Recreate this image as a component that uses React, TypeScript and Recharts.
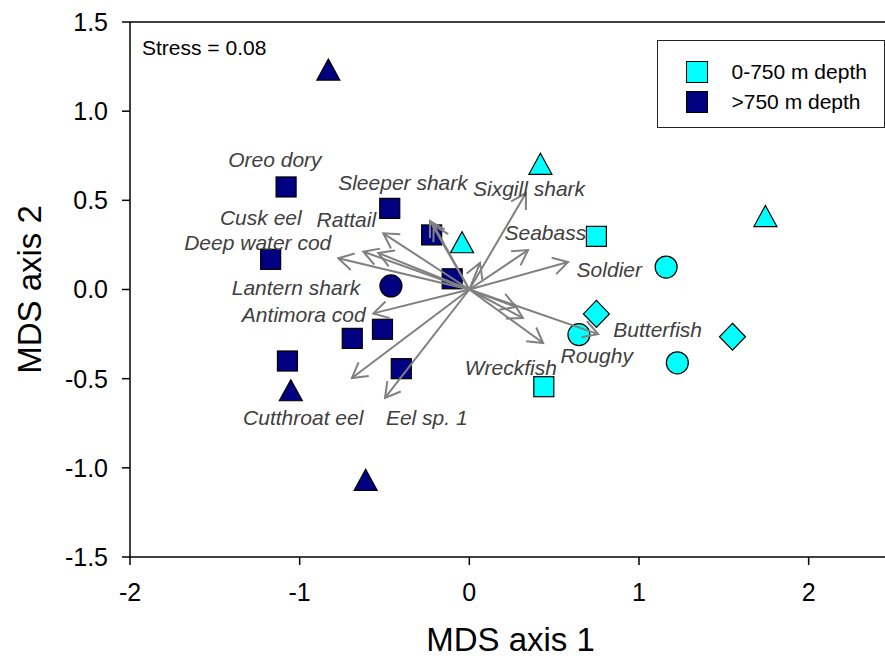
import React from 'react';
import { Legend, ReferenceLine, Scatter, ScatterChart, XAxis, YAxis } from 'recharts';

type Pair = [number, number];

// sample scores on the two MDS axes, grouped by depth stratum and symbol
const deepSquares: Pair[] = [
  [-1.08, 0.575],
  [-0.469, 0.455],
  [-0.222, 0.306],
  [-1.171, 0.169],
  [-0.101, 0.06],
  [-0.512, -0.223],
  [-0.69, -0.274],
  [-1.072, -0.401],
  [-0.401, -0.444],
];
const deepTriangles: Pair[] = [
  [-0.831, 1.233],
  [-1.052, -0.565],
  [-0.611, -1.067],
];
const deepCircles: Pair[] = [[-0.462, 0.02]];

const shallowSquares: Pair[] = [
  [0.749, 0.298],
  [0.439, -0.545],
];
const shallowTriangles: Pair[] = [
  [0.419, 0.705],
  [1.745, 0.412],
  [-0.043, 0.265],
];
const shallowCircles: Pair[] = [
  [1.16, 0.126],
  [0.646, -0.253],
  [1.226, -0.411],
];
const shallowDiamonds: Pair[] = [
  [0.749, -0.137],
  [1.551, -0.265],
];

// species correlation vectors (arrow tips, drawn from the origin)
const vectorOrigin: Pair = [0, 0];
const vectorTips: Pair[] = [
  [0.334, 0.541],
  [0.346, 0.221],
  [0.582, 0.154],
  [0.063, 0.149],
  [0.275, -0.098],
  [0.316, -0.16],
  [0.435, -0.3],
  [0.759, -0.25],
  [-0.232, 0.384],
  [-0.21, 0.36],
  [-0.507, 0.315],
  [-0.772, 0.175],
  [-0.625, 0.212],
  [-0.537, 0.205],
  [-0.566, -0.134],
  [-0.692, -0.496],
  [-0.497, -0.608],
];

const speciesNames = [
  'Oreo dory',
  'Sleeper shark',
  'Sixgill shark',
  'Cusk eel',
  'Rattail',
  'Deep water cod',
  'Seabass',
  'Soldier',
  'Lantern shark',
  'Antimora cod',
  'Butterfish',
  'Roughy',
  'Wreckfish',
  'Cutthroat eel',
  'Eel sp. 1',
];
const speciesLabelAt: Pair[] = [
  [-1.146, 0.732],
  [-0.391, 0.6],
  [0.352, 0.569],
  [-1.229, 0.405],
  [-0.725, 0.394],
  [-1.247, 0.265],
  [0.448, 0.321],
  [0.825, 0.114],
  [-1.022, 0.011],
  [-0.976, -0.14],
  [1.11, -0.223],
  [0.751, -0.37],
  [0.245, -0.437],
  [-0.979, -0.72],
  [-0.251, -0.72],
];

const xTicks = [-2, -1, 0, 1, 2];
const yTicks = [-1.5, -1.0, -0.5, 0.0, 0.5, 1.0, 1.5];

const legendItems = [
  { label: '0-750 m depth', color: '#00ffff' },
  { label: '>750 m depth', color: '#000080' },
];

const DEEP = '#000080';
const SHALLOW = '#00ffff';
const ARROW = '#808080';

const toPoints = (pairs: Pair[]) => pairs.map(([x, y]) => ({ x, y }));
const labelData = speciesNames.map((name, i) => ({
  x: speciesLabelAt[i][0],
  y: speciesLabelAt[i][1],
  name,
}));
// origin first, so its pixel position is known before the tips are drawn
const vectorData = [
  { x: vectorOrigin[0], y: vectorOrigin[1], origin: true },
  ...vectorTips.map(([x, y]) => ({ x, y, origin: false })),
];

const outline = { stroke: '#000', strokeWidth: 1.2 };

const square = (fill: string) => (p: any) => (
  <rect x={p.cx - 10} y={p.cy - 10} width={20} height={20} fill={fill} {...outline} />
);
const circle = (fill: string) => (p: any) => (
  <circle cx={p.cx} cy={p.cy} r={11} fill={fill} {...outline} />
);
const triangle = (fill: string) => (p: any) => (
  <polygon
    points={`${p.cx},${p.cy - 10.5} ${p.cx + 11.5},${p.cy + 10.5} ${p.cx - 11.5},${p.cy + 10.5}`}
    fill={fill}
    {...outline}
  />
);
const diamond = (fill: string) => (p: any) => (
  <polygon
    points={`${p.cx},${p.cy - 13.5} ${p.cx + 13},${p.cy} ${p.cx},${p.cy + 13.5} ${p.cx - 13},${p.cy}`}
    fill={fill}
    {...outline}
  />
);

const speciesText = (p: any) => (
  <text
    x={p.cx}
    y={p.cy}
    dy="0.36em"
    textAnchor="middle"
    fontSize={21}
    fontStyle="italic"
    fill="#404040"
  >
    {p.payload.name}
  </text>
);

let originPx = { x: 0, y: 0 };

const arrowShape = (p: any) => {
  if (p.payload.origin) {
    originPx = { x: p.cx, y: p.cy };
    return <g />;
  }
  const x1 = originPx.x;
  const y1 = originPx.y;
  const x2 = p.cx;
  const y2 = p.cy;
  const a = Math.atan2(y2 - y1, x2 - x1);
  const len = 17;
  const spread = Math.PI / 6;
  const b1 = a + Math.PI - spread;
  const b2 = a + Math.PI + spread;
  const head = `${x2 + len * Math.cos(b1)},${y2 + len * Math.sin(b1)} ${x2},${y2} ${
    x2 + len * Math.cos(b2)
  },${y2 + len * Math.sin(b2)}`;
  return (
    <g>
      <line x1={x1} y1={y1} x2={x2} y2={y2} stroke={ARROW} strokeWidth={2} />
      <polyline points={head} fill="none" stroke={ARROW} strokeWidth={2} />
    </g>
  );
};

const renderLegend = () => (
  <div
    style={{
      position: 'relative',
      width: 228,
      height: 88,
      boxSizing: 'border-box',
      border: '1.5px solid #222',
      background: '#fff',
    }}
  >
    {legendItems.map((item, i) => (
      <React.Fragment key={item.label}>
        <div
          style={{
            position: 'absolute',
            left: 27.5,
            top: 19.5 + i * 30,
            width: 20,
            height: 20,
            background: item.color,
            border: '1.2px solid #000',
          }}
        />
        <div
          style={{
            position: 'absolute',
            left: 73.5,
            top: 19.5 + i * 30,
            fontSize: 21,
            lineHeight: 1,
            color: '#000',
            whiteSpace: 'nowrap',
          }}
        >
          {item.label}
        </div>
      </React.Fragment>
    ))}
  </div>
);

const axisStroke = { stroke: '#000', strokeWidth: 1.5 };

export default function App() {
  return (
    <div
      style={{
        position: 'relative',
        width: 885,
        height: 658,
        fontFamily: '"Liberation Sans", Arial, sans-serif',
        background: '#fff',
      }}
    >
      <style>{'body { margin: 0; }'}</style>
      <ScatterChart width={885} height={658} margin={{ top: 22, right: 0, bottom: 0, left: 0 }}>
        <XAxis
          type="number"
          dataKey="x"
          domain={[-2, 2.45]}
          ticks={xTicks}
          allowDataOverflow
          height={101}
          tickSize={8}
          tickMargin={18}
          axisLine={axisStroke}
          tickLine={axisStroke}
          tick={{ fontSize: 25, fill: '#000' }}
          label={{
            value: 'MDS axis 1',
            position: 'insideBottom',
            offset: 7,
            dx: 3,
            style: { fontSize: 33, fill: '#000' },
          }}
        />
        <YAxis
          type="number"
          dataKey="y"
          domain={[-1.5, 1.5]}
          ticks={yTicks}
          allowDataOverflow
          width={130}
          tickSize={8}
          tickMargin={14}
          axisLine={axisStroke}
          tickLine={axisStroke}
          tick={{ fontSize: 25, fill: '#000' }}
          tickFormatter={(v: number) => v.toFixed(1)}
          label={{
            value: 'MDS axis 2',
            angle: -90,
            position: 'insideLeft',
            offset: 29,
            style: { fontSize: 33, fill: '#000', textAnchor: 'middle' },
          }}
        />
        <ReferenceLine y={1.5} ifOverflow="visible" stroke="#000" strokeWidth={1.5} />

        <Scatter data={toPoints(deepSquares)} shape={square(DEEP)} isAnimationActive={false} />
        <Scatter data={toPoints(deepTriangles)} shape={triangle(DEEP)} isAnimationActive={false} />
        <Scatter data={toPoints(deepCircles)} shape={circle(DEEP)} isAnimationActive={false} />
        <Scatter data={toPoints(shallowSquares)} shape={square(SHALLOW)} isAnimationActive={false} />
        <Scatter data={toPoints(shallowTriangles)} shape={triangle(SHALLOW)} isAnimationActive={false} />
        <Scatter data={toPoints(shallowCircles)} shape={circle(SHALLOW)} isAnimationActive={false} />
        <Scatter data={toPoints(shallowDiamonds)} shape={diamond(SHALLOW)} isAnimationActive={false} />

        <Scatter data={vectorData} shape={arrowShape} isAnimationActive={false} />

        <Scatter data={labelData} shape={speciesText} isAnimationActive={false} />

        <Legend
          layout="vertical"
          align="center"
          verticalAlign="middle"
          content={renderLegend}
          wrapperStyle={{ position: 'absolute', left: 657, top: 40, width: 228, height: 88 }}
        />
      </ScatterChart>
      <div
        style={{
          position: 'absolute',
          left: 142,
          top: 37,
          fontSize: 21,
          lineHeight: 1,
          color: '#000',
          whiteSpace: 'nowrap',
        }}
      >
        Stress = 0.08
      </div>
    </div>
  );
}
